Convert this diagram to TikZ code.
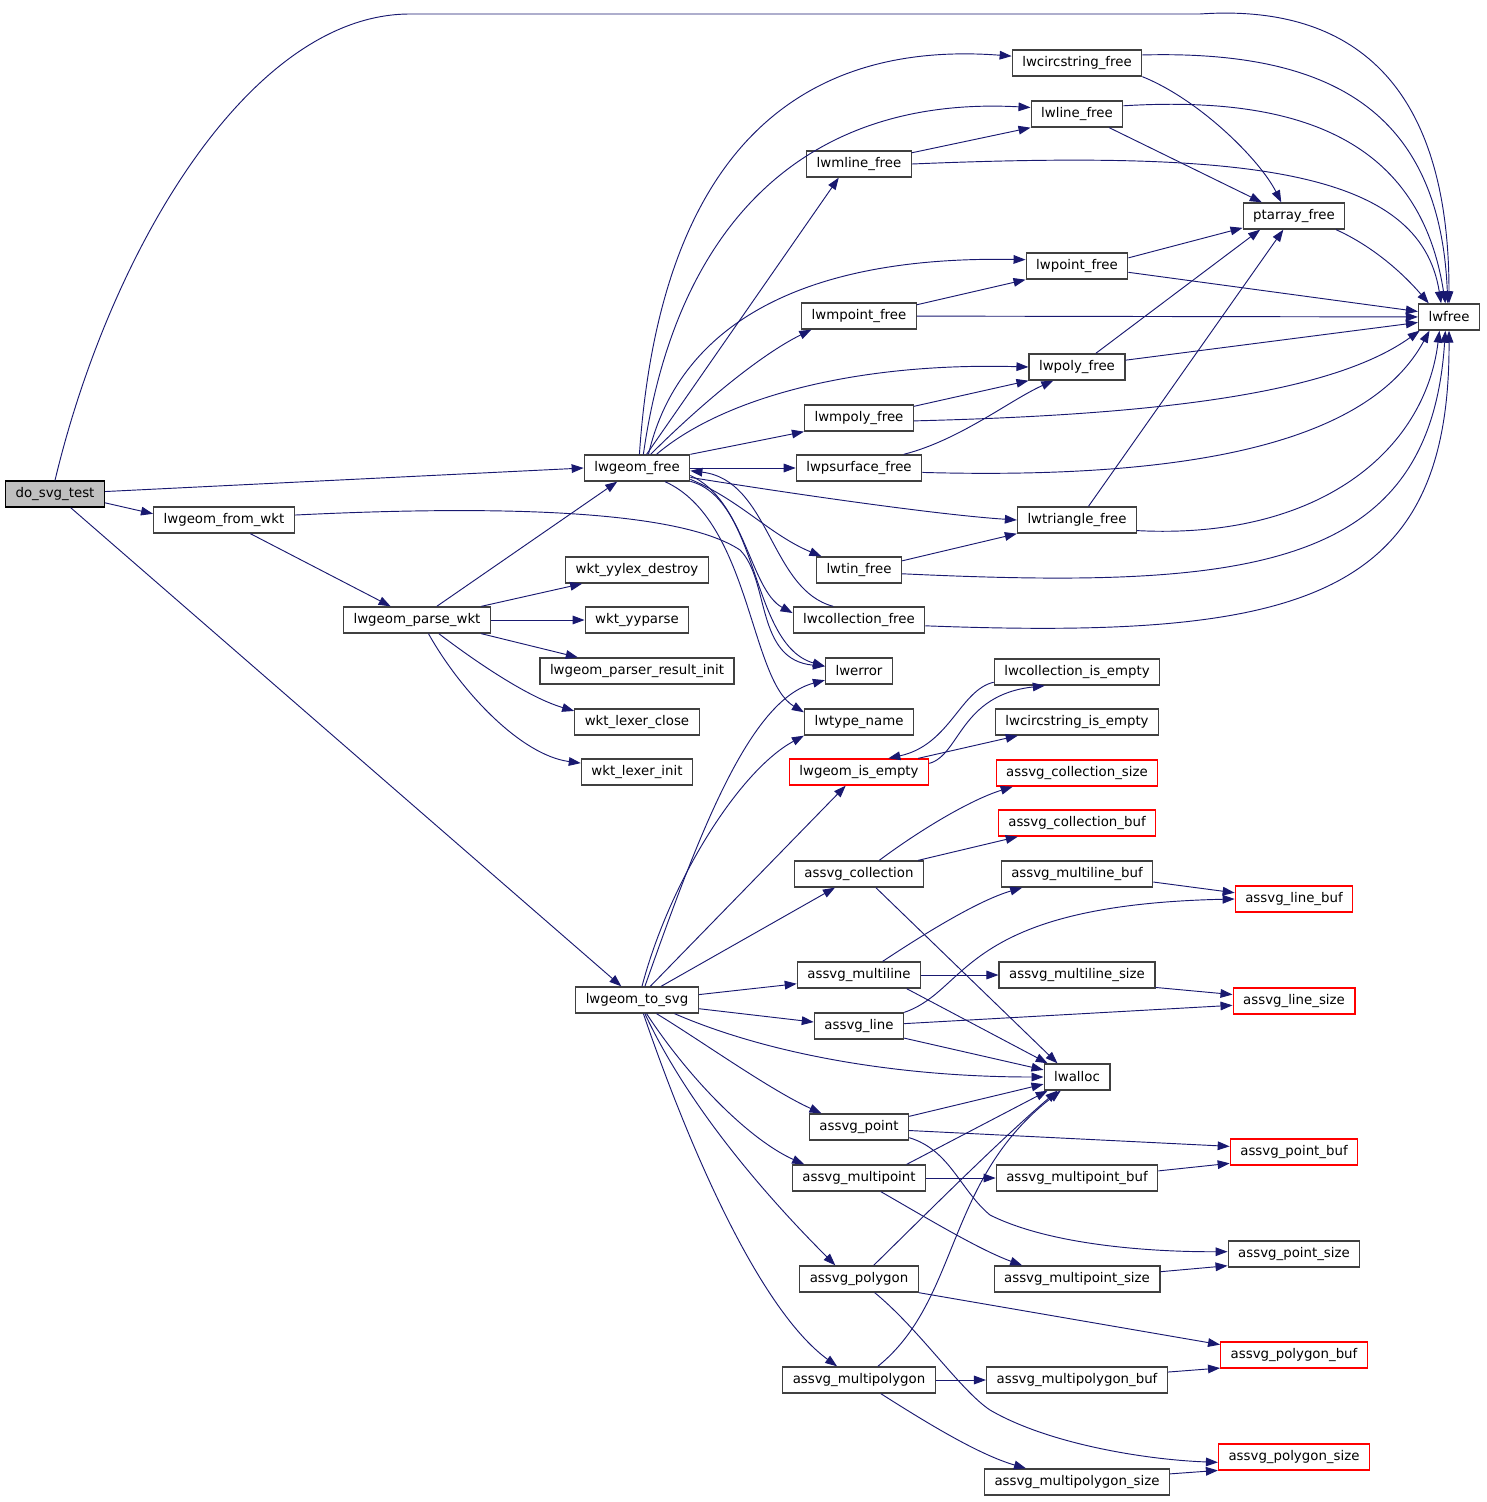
\documentclass[tikz,border=0pt]{standalone}
\usepackage{fontspec}
\setmainfont{DejaVu Sans}
\usepackage{xcolor}
\usepackage{tikz}
\usetikzlibrary{arrows.meta}
\definecolor{edgeblue}{HTML}{191970}
\definecolor{boxgrey}{HTML}{404040}
\definecolor{rootgrey}{HTML}{BFBFBF}
\tikzset{
func/.style = { rectangle, draw = boxgrey, fill = white, line width = 1pt, minimum height = 19.5pt, inner xsep = 7.5pt, inner ysep = 0pt, font = \fontsize{10}{12}\selectfont },
func red/.style = { func, draw = red },
func root/.style = { func, draw = black, fill = rootgrey },
call/.style = { draw = edgeblue, line width = 0.7pt, -{Triangle[length = 9pt, width = 6.5pt]} },
}

\begin{document}
\begin{tikzpicture}[x = 0.75pt, y = -0.75pt]
    \useasboundingbox (0, 0) rectangle (1487, 1502);
    % callers
    \node[func root] (dosvg) at (55, 494) {do\_svg\_test};
    \node[func] (fromwkt) at (224, 520) {lwgeom\_from\_wkt};
    \node[func] (parsewkt) at (417, 620) {lwgeom\_parse\_wkt};
    \node[func] (tosvg) at (637, 1000) {lwgeom\_to\_svg};
    \node[func] (gfree) at (637, 468) {lwgeom\_free};
    \node[func] (yylexdestroy) at (637, 570) {wkt\_yylex\_destroy};
    \node[func] (yyparse) at (637, 620) {wkt\_yyparse};
    \node[func] (resultinit) at (637, 671) {lwgeom\_parser\_result\_init};
    \node[func] (lexerclose) at (637, 722) {wkt\_lexer\_close};
    \node[func] (lexerinit) at (637, 772) {wkt\_lexer\_init};
    % middle column
    \node[func] (mlinefree) at (859, 164) {lwmline\_free};
    \node[func] (mpointfree) at (859, 316) {lwmpoint\_free};
    \node[func] (mpolyfree) at (859, 418) {lwmpoly\_free};
    \node[func] (psurfacefree) at (859, 468) {lwpsurface\_free};
    \node[func] (tinfree) at (859, 570) {lwtin\_free};
    \node[func] (collfree) at (859, 620) {lwcollection\_free};
    \node[func] (lwerror) at (859, 671) {lwerror};
    \node[func] (typename) at (859, 722) {lwtype\_name};
    \node[func red] (isempty) at (859, 772) {lwgeom\_is\_empty};
    \node[func] (acoll) at (859, 874) {assvg\_collection};
    \node[func] (amline) at (859, 975) {assvg\_multiline};
    \node[func] (aline) at (859, 1026) {assvg\_line};
    \node[func] (apoint) at (859, 1127) {assvg\_point};
    \node[func] (ampoint) at (859, 1178) {assvg\_multipoint};
    \node[func] (apoly) at (859, 1279) {assvg\_polygon};
    \node[func] (ampoly) at (859, 1380) {assvg\_multipolygon};
    % right columns
    \node[func] (circfree) at (1077, 63) {lwcircstring\_free};
    \node[func] (linefree) at (1077, 114) {lwline\_free};
    \node[func] (pointfree) at (1077, 266) {lwpoint\_free};
    \node[func] (polyfree) at (1077, 367) {lwpoly\_free};
    \node[func] (trifree) at (1077, 520) {lwtriangle\_free};
    \node[func] (collempty) at (1077, 672) {lwcollection\_is\_empty};
    \node[func] (circempty) at (1077, 722) {lwcircstring\_is\_empty};
    \node[func red] (acollsize) at (1077, 773) {assvg\_collection\_size};
    \node[func red] (acollbuf) at (1077, 823) {assvg\_collection\_buf};
    \node[func] (amlinebuf) at (1077, 874) {assvg\_multiline\_buf};
    \node[func] (amlinesize) at (1077, 975) {assvg\_multiline\_size};
    \node[func] (lwalloc) at (1077, 1077) {lwalloc};
    \node[func] (ampointbuf) at (1077, 1178) {assvg\_multipoint\_buf};
    \node[func] (ampointsize) at (1077, 1279) {assvg\_multipoint\_size};
    \node[func] (ampolybuf) at (1077, 1380) {assvg\_multipolygon\_buf};
    \node[func] (ampolysize) at (1077, 1482) {assvg\_multipolygon\_size};
    \node[func] (ptfree) at (1294, 216) {ptarray\_free};
    \node[func red] (alinebuf) at (1294, 899) {assvg\_line\_buf};
    \node[func red] (alinesize) at (1294, 1001) {assvg\_line\_size};
    \node[func red] (apointbuf) at (1294, 1152) {assvg\_point\_buf};
    \node[func] (apointsize) at (1294, 1254) {assvg\_point\_size};
    \node[func red] (apolybuf) at (1294, 1355) {assvg\_polygon\_buf};
    \node[func red] (apolysize) at (1294, 1457) {assvg\_polygon\_size};
    \node[func] (lwfree) at (1449, 317) {lwfree};

    % do_svg_test and the wkt parser
    \draw[call] (dosvg.north) .. controls (110, 250) and (250, 14) .. (410, 14) -- (1200, 14) .. controls (1330, 5) and (1449, 60) .. (lwfree.north);
    \draw[call] (dosvg) -- (gfree.west);
    \draw[call] (dosvg.-10) -- (fromwkt.175);
    \draw[call] (dosvg) -- (tosvg);
    \draw[call] (fromwkt.4) .. controls (500, 505) and (680, 510) .. (740, 550) .. controls (770, 580) and (755, 660) .. (lwerror.172);
    \draw[call] (fromwkt) -- (parsewkt);
    \draw[call] (parsewkt) -- (gfree);
    \draw[call] (parsewkt.12) -- (yylexdestroy.194);
    \draw[call] (parsewkt) -- (yyparse);
    \draw[call] (parsewkt.-12) -- (resultinit.167);
    \draw[call] (parsewkt.-32) .. controls (480, 665) and (530, 698) .. (lexerclose.170);
    \draw[call] (parsewkt.-50) .. controls (460, 690) and (520, 755) .. (lexerinit.171);

    % lwgeom_free
    \draw[call] (gfree.80) .. controls (660, 150) and (800, 40) .. (circfree.174);
    \draw[call] (gfree.65) .. controls (675, 230) and (800, 95) .. (linefree.172);
    \draw[call] (gfree.55) -- (mlinefree.214);
    \draw[call] (gfree.50) .. controls (675, 340) and (780, 255) .. (pointfree.173);
    \draw[call] (gfree.45) .. controls (700, 405) and (760, 355) .. (mpointfree.196);
    \draw[call] (gfree.35) .. controls (720, 400) and (850, 362) .. (polyfree.west);
    \draw[call] (gfree.north east) -- (mpolyfree.south west);
    \draw[call] (gfree.east) -- (psurfacefree.west);
    \draw[call] (gfree.-10) .. controls (800, 495) and (940, 515) .. (trifree.west);
    \draw[call] (gfree.-12) .. controls (740, 500) and (770, 535) .. (tinfree.160);
    \draw[call] (gfree.-8) .. controls (745, 500) and (750, 590) .. (collfree.174);
    \draw[call] (gfree.-14) .. controls (760, 500) and (750, 645) .. (lwerror.172);
    \draw[call] (gfree.-26) .. controls (750, 520) and (750, 680) .. (typename.170);
    \draw[call] (collfree.152) .. controls (770, 590) and (770, 480) .. (gfree.-3);

    % the free functions
    \draw[call] (mlinefree.12) -- (linefree.south west);
    \draw[call] (mlinefree.east) .. controls (1250, 150) and (1420, 170) .. (lwfree.120);
    \draw[call] (circfree.south east) .. controls (1200, 100) and (1260, 160) .. (ptfree.133);
    \draw[call] (circfree.7) .. controls (1330, 50) and (1440, 110) .. (lwfree.95);
    \draw[call] (linefree.-23) -- (ptfree.157);
    \draw[call] (linefree.10) .. controls (1300, 95) and (1420, 140) .. (lwfree.105);
    \draw[call] (ptfree.-18) .. controls (1370, 245) and (1400, 270) .. (lwfree.146);
    \draw[call] (pointfree.9) -- (ptfree.193);
    \draw[call] (pointfree.-7) -- (lwfree.170);
    \draw[call] (mpointfree.11) -- (pointfree.south west);
    \draw[call] (mpointfree) -- (lwfree);
    \draw[call] (polyfree.36) -- (ptfree.202);
    \draw[call] (polyfree.8) -- (lwfree.190);
    \draw[call] (mpolyfree.12) -- (polyfree.south west);
    \draw[call] (mpolyfree.-3) .. controls (1150, 415) and (1330, 395) .. (lwfree.205);
    \draw[call] (psurfacefree.17) .. controls (960, 440) and (1010, 400) .. (polyfree.210);
    \draw[call] (psurfacefree.-4) .. controls (1200, 480) and (1370, 440) .. (lwfree.215);
    \draw[call] (trifree.50) -- (ptfree.232);
    \draw[call] (trifree.-10) .. controls (1320, 540) and (1425, 450) .. (lwfree.235);
    \draw[call] (tinfree.12) -- (trifree.south west);
    \draw[call] (tinfree.-5) .. controls (1250, 590) and (1430, 570) .. (lwfree.255);
    \draw[call] (collfree.-5) .. controls (1300, 640) and (1450, 600) .. (lwfree.south);

    % lwgeom_to_svg
    \draw[call] (tosvg.60) .. controls (700, 830) and (750, 700) .. (lwerror.195);
    \draw[call] (tosvg.70) .. controls (670, 880) and (740, 770) .. (typename.south west);
    \draw[call] (tosvg) -- (isempty);
    \draw[call] (tosvg) -- (acoll);
    \draw[call] (tosvg.5) -- (amline.188);
    \draw[call] (tosvg.-8) -- (aline.175);
    \draw[call] (tosvg.-20) .. controls (770, 1055) and (900, 1077) .. (lwalloc.west);
    \draw[call] (tosvg.-35) .. controls (700, 1040) and (770, 1090) .. (apoint.160);
    \draw[call] (tosvg.-55) .. controls (690, 1080) and (750, 1140) .. (ampoint.166);
    \draw[call] (tosvg.-60) .. controls (690, 1110) and (770, 1200) .. (apoly.150);
    \draw[call] (tosvg.-65) .. controls (690, 1150) and (760, 1310) .. (ampoly.148);
    \draw[call] (isempty.7) .. controls (960, 755) and (960, 695) .. (collempty.203);
    \draw[call] (collempty.187) .. controls (960, 690) and (950, 745) .. (isempty.25);
    \draw[call] (isempty.13) -- (circempty.193);

    % the assvg functions
    \draw[call] (acoll.34) .. controls (920, 830) and (970, 800) .. (acollsize.192);
    \draw[call] (acoll.13) -- (acollbuf.193);
    \draw[call] (acoll.-39) -- (lwalloc.145);
    \draw[call] (amline.30) .. controls (930, 930) and (980, 900) .. (amlinebuf.194);
    \draw[call] (amline) -- (amlinesize);
    \draw[call] (amline.-16) -- (lwalloc.155);
    \draw[call] (amlinebuf.-6) -- (alinebuf.174);
    \draw[call] (amlinesize.-9) -- (alinesize.174);
    \draw[call] (aline.north east) .. controls (970, 990) and (960, 905) .. (alinebuf.west);
    \draw[call] (aline.3) -- (alinesize.184);
    \draw[call] (aline.-15) -- (lwalloc.168);
    \draw[call] (apoint.12) -- (lwalloc.192);
    \draw[call] (apoint.-4) -- (apointbuf.175);
    \draw[call] (apoint.-12) .. controls (950, 1150) and (960, 1190) .. (990, 1215) .. controls (1050, 1245) and (1150, 1252) .. (apointsize.178);
    \draw[call] (ampoint.16) -- (lwalloc.205);
    \draw[call] (ampoint) -- (ampointbuf);
    \draw[call] (ampoint.-32) .. controls (930, 1220) and (980, 1250) .. (ampointsize.166);
    \draw[call] (ampointbuf.5) -- (apointbuf.190);
    \draw[call] (ampointsize.5) -- (apointsize.190);
    \draw[call] (apoly.43) .. controls (930, 1210) and (1000, 1140) .. (lwalloc.215);
    \draw[call] (apoly.south east) -- (apolybuf.172);
    \draw[call] (apoly.-41) .. controls (920, 1330) and (960, 1390) .. (990, 1410) .. controls (1050, 1445) and (1150, 1460) .. (apolysize.184);
    \draw[call] (ampoly.36) .. controls (960, 1300) and (945, 1180) .. (lwalloc.220);
    \draw[call] (ampoly) -- (ampolybuf);
    \draw[call] (ampoly.-32) .. controls (930, 1425) and (980, 1455) .. (ampolysize.165);
    \draw[call] (ampolybuf.5) -- (apolybuf.190);
    \draw[call] (ampolysize.5) -- (apolysize.190);
\end{tikzpicture}
\end{document}
